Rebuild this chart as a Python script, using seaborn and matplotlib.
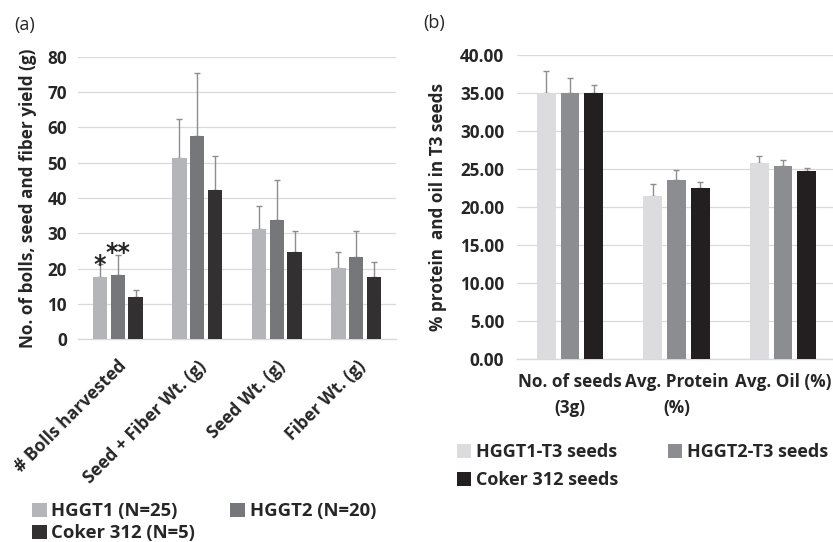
import matplotlib
matplotlib.use("Agg")
import matplotlib.pyplot as plt
import seaborn as sns
import pandas as pd
from matplotlib.patches import Patch

# ---------------- data ----------------
cats_a = ["# Bolls harvested", "Seed + Fiber Wt. (g)", "Seed Wt. (g)", "Fiber Wt. (g)"]
groups_a = ["HGGT1 (N=25)", "HGGT2 (N=20)", "Coker 312 (N=5)"]
hggt1_a = [17.7, 51.3, 31.1, 20.2]
hggt2_a = [18.2, 57.5, 33.7, 23.2]
coker_a = [12.0, 42.3, 24.8, 17.7]
hggt1_a_err = [3.5, 11.2, 6.7, 4.6]
hggt2_a_err = [5.6, 18.0, 11.5, 7.5]
coker_a_err = [2.0, 9.7, 5.7, 4.2]
stars_a = ["*", "**", ""]  # significance marks on first category
yticks_a = [0, 10, 20, 30, 40, 50, 60, 70, 80]

cats_b = ["No. of seeds\n(3g)", "Avg. Protein\n(%)", "Avg. Oil (%)"]
groups_b = ["HGGT1-T3 seeds", "HGGT2-T3 seeds", "Coker 312 seeds"]
hggt1_b = [35.0, 21.45, 25.75]
hggt2_b = [35.0, 23.55, 25.4]
coker_b = [35.0, 22.45, 24.7]
hggt1_b_err = [2.9, 1.55, 1.0]
hggt2_b_err = [2.0, 1.35, 0.8]
coker_b_err = [1.0, 0.85, 0.4]
yticks_b = [0, 5, 10, 15, 20, 25, 30, 35, 40]

colors_a = ["#b4b5b9", "#76777b", "#323031"]
colors_b = ["#dcdcde", "#8c8d91", "#231f20"]

sns.set_theme(style="white")
plt.rcParams["font.family"] = ["Open Sans", "DejaVu Sans"]
TXT = "#262626"
FS = 12.3

fig = plt.figure(figsize=(8.33, 5.42), dpi=100)
ax1 = fig.add_axes([78/833, 1-339/542, (396-78)/833, (339-57)/542])
ax2 = fig.add_axes([516.7/833, 1-359/542, (833-516.7)/833, (359-55)/542])


def make_df(cats, groups, vals, errs):
    rows = []
    for g, v, e in zip(groups, vals, errs):
        for c, vv, ee in zip(cats, v, e):
            rows.append({"cat": c, "group": g, "value": vv, "err": ee})
    return pd.DataFrame(rows)


df_a = make_df(cats_a, groups_a, [hggt1_a, hggt2_a, coker_a], [hggt1_a_err, hggt2_a_err, coker_a_err])
df_b = make_df(cats_b, groups_b, [hggt1_b, hggt2_b, coker_b], [hggt1_b_err, hggt2_b_err, coker_b_err])


def draw(ax, df, cats, groups, colors, errs):
    sns.barplot(data=df, x="cat", y="value", hue="group", order=cats, hue_order=groups,
                palette=colors, width=0.67, gap=0.21, errorbar=None, ax=ax, legend=False,
                saturation=1, edgecolor="none", zorder=3)
    tops = []
    for cont, e in zip(ax.containers, errs):
        xs = [b.get_x() + b.get_width()/2 for b in cont]
        hs = [b.get_height() for b in cont]
        ax.errorbar(xs, hs, yerr=[[0]*len(e), e], fmt="none", ecolor="#8e8e8e",
                    elinewidth=1.0, capsize=2.2, capthick=1.0, zorder=2)
        tops.append(list(zip(xs, [h + ee for h, ee in zip(hs, e)])))
    for s in ["top", "right", "left"]:
        ax.spines[s].set_visible(False)
    ax.spines["bottom"].set_color("#d9d9d9")
    ax.spines["bottom"].set_linewidth(1.0)
    ax.grid(axis="y", color="#d9d9d9", linewidth=0.9, zorder=0)
    ax.set_axisbelow(True)
    ax.tick_params(axis="both", length=0, labelsize=FS, colors=TXT)
    ax.set_xlabel("")
    return tops


tops_a = draw(ax1, df_a, cats_a, groups_a, colors_a, [hggt1_a_err, hggt2_a_err, coker_a_err])
tops_b = draw(ax2, df_b, cats_b, groups_b, colors_b, [hggt1_b_err, hggt2_b_err, coker_b_err])

# panel a axes
ax1.set_ylim(0, 80)
ax1.set_xlim(-0.5, 3.5)
ax1.set_yticks(yticks_a)
ax1.set_yticklabels([str(t) for t in yticks_a], fontweight="bold")
ax1.tick_params(axis="y", pad=8)
ax1.set_ylabel("No. of bolls, seed and fiber yield (g)", fontsize=FS, fontweight="bold", color=TXT, labelpad=7)
ax1.set_xticks(range(len(cats_a)))
ax1.set_xticklabels(cats_a, rotation=45, ha="right", rotation_mode="anchor", fontweight="bold",
                    fontsize=12.6)
ax1.tick_params(axis="x", pad=13)

star_offsets = [(0, -5.7), (0, -3.5)]
for (x, y), s, off in zip([t[0] for t in tops_a], stars_a, star_offsets):
    if s:
        ax1.annotate(s, (x, y), xytext=off, textcoords="offset points", ha="center", va="baseline",
                     fontsize=17, color=TXT, fontweight="bold", family="DejaVu Sans")

# panel b axes
ax2.set_ylim(0, 40)
ax2.set_xlim(-0.5, 2.47)
ax2.set_yticks(yticks_b)
ax2.set_yticklabels([f"{t:.2f}" for t in yticks_b], fontweight="bold")
ax2.tick_params(axis="y", pad=9)
ax2.set_ylabel("% protein  and oil in T3 seeds", fontsize=FS, fontweight="bold", color=TXT, labelpad=9)
ax2.set_xticks(range(len(cats_b)))
ax2.set_xticklabels(cats_b, fontweight="bold", linespacing=1.6)
ax2.tick_params(axis="x", pad=10)

# panel labels
fig.text(14/833, 1-25/542, "(a)", fontsize=13, color=TXT, va="center")
fig.text(423/833, 1-23/542, "(b)", fontsize=13, color=TXT, va="center")

# legends (row-wise order in 2 columns)
def legend(handles, labels, anchor, spacing, size, colsp):
    order = [0, 2, 1]
    fig.legend([handles[i] for i in order], [labels[i] for i in order], loc="upper left",
               bbox_to_anchor=anchor, ncol=2, frameon=False,
               prop={"weight": "bold", "size": size}, handlelength=0.8, handleheight=0.8,
               handletextpad=0.25, columnspacing=colsp, labelspacing=spacing, labelcolor=TXT,
               borderpad=0, borderaxespad=0)

legend([Patch(facecolor=c, edgecolor="none") for c in colors_a], groups_a, (32/833, 1-502/542), 0.22, 13.3, 1.9)
legend([Patch(facecolor=c, edgecolor="none") for c in colors_b], groups_b, (457/833, 1-443/542), 0.55, 13.0, 2.75)

fig.savefig("out.png", dpi=100)
